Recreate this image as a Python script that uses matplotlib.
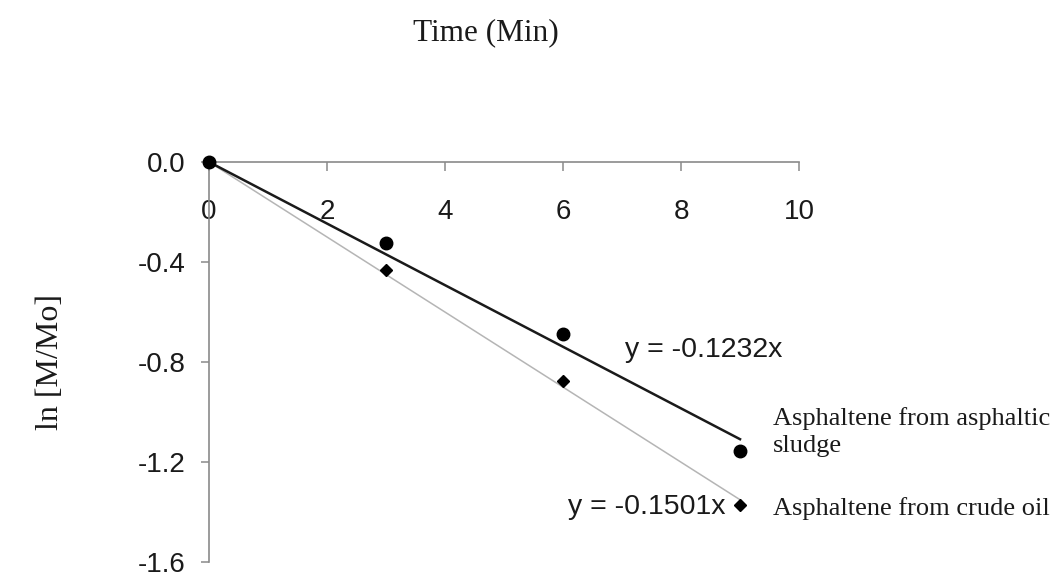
import matplotlib
matplotlib.use("Agg")
import matplotlib.pyplot as plt
import numpy as np

# Reaction time (min) and ln(M/Mo) for the two asphaltene sources
time_min = [0, 3, 6, 9]
sludge_ln = [0.0, -0.325, -0.690, -1.157]
crude_ln = [0.0, -0.432, -0.877, -1.373]

# Fitted slopes (regression forced through the origin)
sludge_slope = -0.1232
crude_slope = -0.1501

x_ticks = [0, 2, 4, 6, 8, 10]
y_ticks = [-1.6, -1.2, -0.8, -0.4, 0.0]

sans = "Liberation Sans"
serif = "Liberation Serif"

fig = plt.figure(figsize=(10.59, 5.76), dpi=100)
ax = fig.add_axes([0.1974, 0.0243, 0.5571, 0.6945])

ax.set_xlim(0, 10)
ax.set_ylim(-1.6, 0)

# Trend lines drawn from the fitted slopes
fit_x = np.array([0, 9])
ax.plot(fit_x, crude_slope * fit_x, color="#b5b5b5", lw=1.1, zorder=2)
ax.plot(fit_x, sludge_slope * fit_x, color="#1a1a1a", lw=1.8, zorder=3)

ax.plot(time_min, crude_ln, "D", color="black", ms=5.8, zorder=4, clip_on=False)
ax.plot(time_min, sludge_ln, "o", color="black", ms=9, zorder=5, clip_on=False)

# Axis lines cross at the origin
for side in ("top", "right"):
    ax.spines[side].set_visible(False)
ax.spines["bottom"].set_position(("data", 0))
ax.spines["left"].set_position(("data", 0))
for side in ("bottom", "left"):
    ax.spines[side].set_color("#8a8a8a")
    ax.spines[side].set_linewidth(1.2)

ax.set_xticks(x_ticks)
ax.set_xticklabels([str(v) for v in x_ticks])
ax.set_yticks(y_ticks)
ax.set_yticklabels([f"{v:.1f}" for v in y_ticks])
ax.tick_params(axis="x", direction="out", length=6.5, width=1.1,
               color="#8a8a8a", pad=20, labelsize=20, labelcolor="#1a1a1a")
ax.tick_params(axis="y", direction="out", length=6, width=1.1,
               color="#8a8a8a", pad=11, labelsize=20, labelcolor="#1a1a1a")
for lab in ax.get_xticklabels() + ax.get_yticklabels():
    lab.set_fontfamily(sans)

ax.set_xlabel("Time (Min)", fontfamily=serif, fontsize=22.5, color="#1a1a1a")
ax.xaxis.set_label_position("top")
ax.xaxis.label.set_verticalalignment("center")
ax.xaxis.set_label_coords(0.469, 1.322)

ax.set_ylabel("ln [M/Mo]", fontfamily=serif, fontsize=23, color="#1a1a1a")
ax.yaxis.label.set_verticalalignment("center")
ax.yaxis.set_label_coords(-0.268, 0.5)

# Fitted equations
ax.text(7.05, -0.78, f"y = {sludge_slope:.4f}x", fontfamily=sans, fontsize=20.5,
        color="#1a1a1a", ha="left", va="baseline")
ax.text(8.76, -1.41, f"y = {crude_slope:.4f}x", fontfamily=sans, fontsize=20.5,
        color="#1a1a1a", ha="right", va="baseline")

# Series labels
ax.text(9.56, -1.161, "Asphaltene from asphaltic\nsludge", fontfamily=serif,
        fontsize=19, color="#1a1a1a", ha="left", va="baseline",
        linespacing=1.32, clip_on=False)
ax.text(9.56, -1.413, "Asphaltene from crude oil", fontfamily=serif,
        fontsize=19, color="#1a1a1a", ha="left", va="baseline", clip_on=False)

fig.savefig("out.png", dpi=100, facecolor="white")
